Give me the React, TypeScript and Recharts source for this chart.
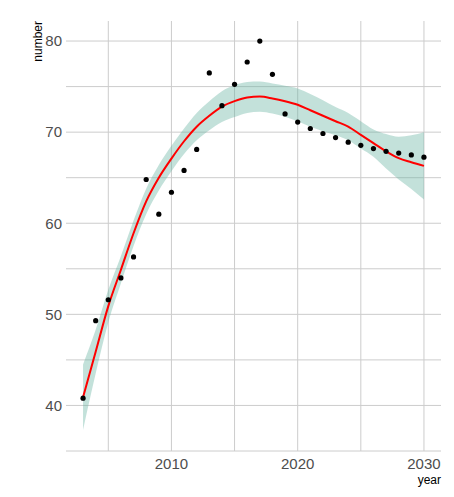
import {
  ComposedChart,
  Scatter,
  Area,
  Line,
  XAxis,
  YAxis,
  CartesianGrid,
  Label,
} from "recharts";

const years = [
  2003, 2004, 2005, 2006, 2007, 2008, 2009, 2010, 2011, 2012, 2013, 2014, 2015, 2016,
  2017, 2018, 2019, 2020, 2021, 2022, 2023, 2024, 2025, 2026, 2027, 2028, 2029, 2030,
];

const observed = [
  40.8, 49.3, 51.6, 54.0, 56.3, 64.8, 61.0, 63.4, 65.8, 68.1, 76.5, 72.9, 75.25, 77.7,
  80.0, 76.35, 72.0, 71.1, 70.4, 69.85, 69.4, 68.9, 68.55, 68.2, 67.9, 67.7, 67.5, 67.25,
];

// loess fit and its 95% band
const smoothFit = [
  40.9, 45.9, 50.9, 54.9, 58.9, 62.4, 65.0, 67.1, 69.0, 70.6, 71.8, 72.8, 73.4, 73.8,
  73.9, 73.7, 73.4, 73.0, 72.4, 71.8, 71.2, 70.6, 69.7, 68.8, 67.9, 67.15, 66.7, 66.3,
];

const ciLower = [
  37.3, 43.5, 49.1, 53.4, 57.5, 61.0, 63.6, 65.7, 67.6, 69.1, 70.2, 71.1, 71.65, 72.1,
  72.25, 72.05, 71.7, 71.2, 70.6, 70.1, 69.65, 69.1, 68.2, 67.3, 66.0, 64.8, 63.75, 62.6,
];

const ciUpper = [
  44.5, 48.3, 52.7, 56.4, 60.3, 63.8, 66.4, 68.5, 70.4, 72.1, 73.4, 74.5, 75.15, 75.5,
  75.55, 75.35, 75.1, 74.8, 74.2, 73.5, 72.75, 72.1, 71.2, 70.3, 69.8, 69.5, 69.65, 70.0,
];

const xTicks = [2005, 2010, 2015, 2020, 2025, 2030];
const xLabelled = [2010, 2020, 2030];
const yTicks = [35, 40, 45, 50, 55, 60, 65, 70, 75, 80];
const yLabelled = [40, 50, 60, 70, 80];

const data = years.map((year, i) => ({
  year,
  number: observed[i],
  fit: smoothFit[i],
  band: [ciLower[i], ciUpper[i]],
}));

const FONT = "'Liberation Sans', Arial, sans-serif";

const Dot = (props: any) => <circle cx={props.cx} cy={props.cy} r={2.6} fill="#000" />;

export default function App() {
  return (
    <div style={{ position: "absolute", left: 0, top: 0, background: "#fff" }}>
      <ComposedChart
        width={454}
        height={497}
        data={data}
        margin={{ top: 21, right: 13, left: 0, bottom: 0 }}
        style={{ fontFamily: FONT }}
      >
        {/* grid at major + minor breaks only, no panel frame */}
        <CartesianGrid stroke="#cccccc" strokeWidth={1} syncWithTicks />
        <XAxis
          dataKey="year"
          type="number"
          domain={[2001.65, 2031.35]}
          ticks={xTicks}
          tickFormatter={(v: number) => (xLabelled.includes(v) ? String(v) : "")}
          axisLine={false}
          tickLine={false}
          tickSize={0}
          tickMargin={7}
          height={46}
          tick={{ fill: "#4d4d4d", fontSize: 15 }}
          interval={0}
        >
          <Label
            content={() => (
              <text x={441} y={484} textAnchor="end" fontSize={12} fill="#000" fontFamily={FONT}>
                year
              </text>
            )}
          />
        </XAxis>
        <YAxis
          type="number"
          domain={[35, 82.2]}
          ticks={yTicks}
          tickFormatter={(v: number) => (yLabelled.includes(v) ? String(v) : "")}
          axisLine={false}
          tickLine={false}
          tickSize={0}
          tickMargin={4}
          width={66}
          tick={{ fill: "#4d4d4d", fontSize: 15 }}
          interval={0}
        >
          <Label
            content={() => (
              <text
                x={41.5}
                y={21}
                transform="rotate(-90 41.5 21)"
                textAnchor="end"
                fontSize={12}
                fill="#000"
                fontFamily={FONT}
              >
                number
              </text>
            )}
          />
        </YAxis>
        <Scatter dataKey="number" shape={Dot} isAnimationActive={false} />
        <Area
          dataKey="band"
          type="monotone"
          stroke="none"
          fill="#69b3a2"
          fillOpacity={0.4}
          isAnimationActive={false}
        />
        <Line
          dataKey="fit"
          type="monotone"
          stroke="#ff0000"
          strokeWidth={2}
          dot={false}
          isAnimationActive={false}
        />
      </ComposedChart>
    </div>
  );
}
